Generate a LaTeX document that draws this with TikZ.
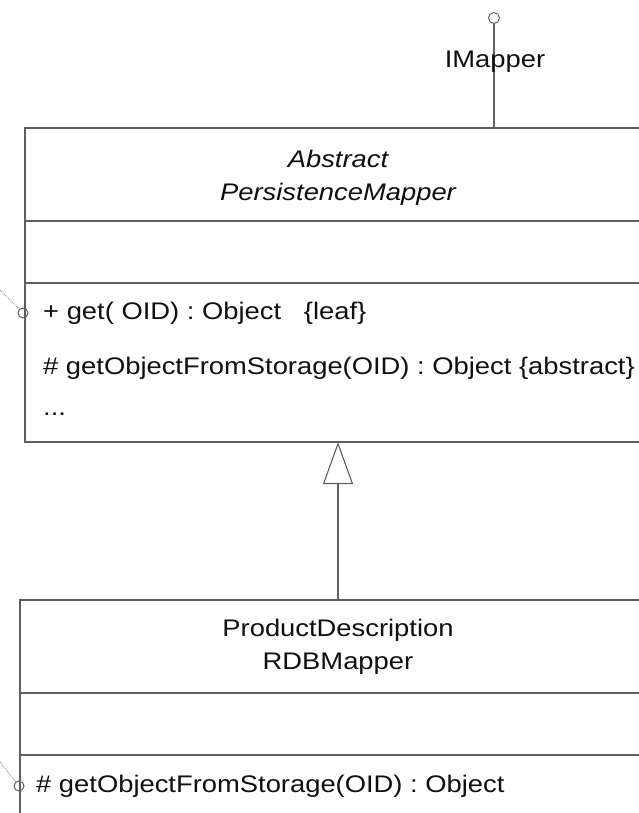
\documentclass[tikz,border=0pt]{standalone}
\usepackage{fontspec}
\setmainfont[FakeStretch=1.14]{Liberation Sans}
\usetikzlibrary{arrows.meta}
\definecolor{umlline}{RGB}{95,95,95}
\definecolor{umltext}{RGB}{15,15,15}
\definecolor{umldot}{RGB}{150,150,150}
\tikzset{
  classbox/.style={draw=umlline, line width=1.3pt, rectangle, inner sep=0pt},
  sepline/.style={draw=umlline, line width=1.3pt},
  member/.style={anchor=west, inner sep=0pt, text=umltext, font=\fontsize{24}{33}\selectfont},
  title/.style={align=center, inner sep=0pt, text=umltext, font=\fontsize{24}{33}\selectfont},
  ball/.style={circle, draw=umlline, line width=1pt, inner sep=0pt, minimum size=11pt},
  smallball/.style={circle, draw=umlline, line width=1pt, inner sep=0pt, minimum size=10pt},
  link/.style={draw=umlline, line width=1.1pt},
  dotlink/.style={draw=umldot, line width=0.9pt, densely dotted},
  generalize/.style={link, -{Triangle[open, fill=white, length=42pt, width=30pt, line width=1.1pt]}}
}
\begin{document}
\begin{tikzpicture}[x=1pt, y=-1pt]
  \useasboundingbox (0,0) rectangle (639,813);

  % abstract superclass (right edge runs past the page)
  \node[classbox, minimum width=640pt, minimum height=314pt] (apm) at (345,285) {};
  \draw[sepline] (25,221) -- (665,221);
  \draw[sepline] (25,283) -- (665,283);
  \node[title] (apmname) at (338,178) {\itshape Abstract\\\itshape PersistenceMapper};
  \node[member] (apmget) at (43,313) {+ get( OID) : Object \ \ \{leaf\}};
  \node[member] (apmstore) at (43,368) {\# getObjectFromStorage(OID) : Object \{abstract\}};
  \node[member] (apmmore) at (43,414) {...};

  % provided interface
  \node[ball] (imapper) at (494,18) {};
  \coordinate (apmtop) at (494,128);
  \draw[link] (imapper) -- (apmtop);
  \node[title] (imappername) at (495,62) {IMapper};

  % port on get()
  \node[smallball] (getport) at (23,313) {};
  \coordinate (getcaller) at (0,290);
  \draw[dotlink] (getcaller) -- (getport);

  % concrete subclass (right and bottom edges run past the page)
  \node[classbox, minimum width=640pt, minimum height=300pt] (pdm) at (340,750) {};
  \draw[sepline] (20,693) -- (665,693);
  \draw[sepline] (20,755) -- (665,755);
  \node[title] (pdmname) at (338,647) {ProductDescription\\RDBMapper};
  \node[member] (pdmstore) at (36,786) {\# getObjectFromStorage(OID) : Object};

  % port on getObjectFromStorage()
  \node[smallball] (storeport) at (19,786) {};
  \coordinate (storecaller) at (0,762);
  \draw[dotlink] (storecaller) -- (storeport);

  % generalization
  \coordinate (pdmtop) at (338,600);
  \coordinate (apmbottom) at (338,442);
  \draw[generalize] (pdmtop) -- (apmbottom);
\end{tikzpicture}
\end{document}
